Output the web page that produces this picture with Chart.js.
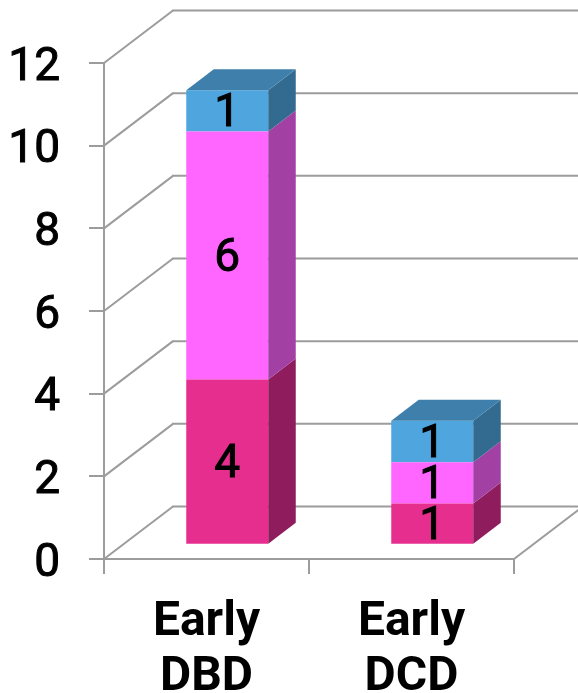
<!DOCTYPE html>
<html>
<head>
<meta charset="utf-8">
<title>Early DBD / DCD</title>
<script src="https://cdn.jsdelivr.net/npm/chart.js@4"></script>
<style>
  html, body { margin: 0; padding: 0; background: #fff; }
  canvas { display: block; }
</style>
</head>
<body>
<canvas id="grafik" width="578" height="693"></canvas>
<script>
var kategoriler = [["Early", "DBD"], ["Early", "DCD"]];
var altDegerler = [4, 1];
var ortaDegerler = [6, 1];
var ustDegerler = [1, 1];

var altRenkler = ["#E62E8F", "#8F1C5C"];
var ortaRenkler = ["#FF66FF", "#A340A3"];
var ustRenkler = ["#4FA6DE", "#336B90"];
var tepeRengi = "#3F7FAB";
var cizgiRengi = "#9C9C9C";

var yaziTipi = "Roboto";

/* duvar derinligi ve cubuklarin zemindeki kaymasi */
var duvarX = 69, duvarY = -52.5;
var kaymaX = 20.75, kaymaY = -14.2;
var cubukDerinX = 27.5, cubukDerinY = -21;

function cizgi(ctx, x1, y1, x2, y2) {
  ctx.beginPath();
  ctx.moveTo(x1, y1);
  ctx.lineTo(x2, y2);
  ctx.stroke();
}

function dortgen(ctx, noktalar, renk) {
  ctx.fillStyle = renk;
  ctx.beginPath();
  ctx.moveTo(noktalar[0], noktalar[1]);
  ctx.lineTo(noktalar[2], noktalar[3]);
  ctx.lineTo(noktalar[4], noktalar[5]);
  ctx.lineTo(noktalar[6], noktalar[7]);
  ctx.closePath();
  ctx.fill();
}

var ucBoyut = {
  id: "ucBoyut",
  beforeDatasetsDraw: function (chart) {
    var ctx = chart.ctx;
    var alan = chart.chartArea;
    var y = chart.scales.y;

    ctx.save();
    ctx.strokeStyle = cizgiRengi;
    ctx.lineWidth = 2;
    /* yan duvar ve arka duvar cizgileri */
    y.ticks.forEach(function (t) {
      var py = y.getPixelForValue(t.value);
      cizgi(ctx, alan.left, py, alan.left + duvarX, py + duvarY);
      cizgi(ctx, alan.left + duvarX - 1, py + duvarY, chart.width, py + duvarY);
    });
    /* zeminin sag kenari */
    cizgi(ctx, alan.right, alan.bottom, alan.right + duvarX, alan.bottom + duvarY);
    ctx.restore();

    ctx.save();
    ctx.translate(kaymaX, kaymaY);
  },
  afterDatasetsDraw: function (chart) {
    var ctx = chart.ctx;

    chart.data.datasets.forEach(function (ds, d) {
      chart.getDatasetMeta(d).data.forEach(function (bar) {
        var sag = bar.x + bar.width / 2;
        var sol = bar.x - bar.width / 2;
        dortgen(ctx, [sag, bar.y, sag + cubukDerinX, bar.y + cubukDerinY,
          sag + cubukDerinX, bar.base + cubukDerinY, sag, bar.base], ds.yanRenk);
        if (d === chart.data.datasets.length - 1) {
          dortgen(ctx, [sol, bar.y, sol + cubukDerinX, bar.y + cubukDerinY,
            sag + cubukDerinX, bar.y + cubukDerinY, sag, bar.y], tepeRengi);
        }
      });
    });

    /* degerler cubuklarin ortasina yazilir */
    ctx.fillStyle = "#000";
    ctx.strokeStyle = "#000";
    ctx.lineWidth = 1;
    ctx.font = "46px " + yaziTipi;
    ctx.textAlign = "center";
    ctx.textBaseline = "middle";
    chart.data.datasets.forEach(function (ds, d) {
      chart.getDatasetMeta(d).data.forEach(function (bar, i) {
        ctx.fillText(ds.data[i], bar.x, (bar.y + bar.base) / 2 + 4);
        ctx.strokeText(ds.data[i], bar.x, (bar.y + bar.base) / 2 + 4);
      });
    });

    ctx.restore();
  }
};

var ctx = document.getElementById("grafik");
var grafik = new Chart(ctx, {
  type: "bar",
  data: {
    labels: kategoriler,
    datasets: [
      { data: altDegerler, backgroundColor: altRenkler[0], yanRenk: altRenkler[1] },
      { data: ortaDegerler, backgroundColor: ortaRenkler[0], yanRenk: ortaRenkler[1] },
      { data: ustDegerler, backgroundColor: ustRenkler[0], yanRenk: ustRenkler[1] }
    ]
  },
  options: {
    responsive: false,
    animation: false,
    layout: { padding: { top: 63, right: 64, left: 0, bottom: 0 } },
    plugins: { legend: { display: false }, tooltip: { enabled: false } },
    datasets: { bar: { barPercentage: 0.4, categoryPercentage: 1, borderWidth: 0 } },
    scales: {
      x: {
        stacked: true,
        afterFit: function (s) { s.height = 134; },
        border: { color: cizgiRengi, width: 2 },
        grid: { offset: true, drawOnChartArea: false, color: cizgiRengi, lineWidth: 2, tickLength: 15 },
        ticks: { color: "#000", padding: 21, maxRotation: 0, autoSkip: false, font: { family: yaziTipi, size: 48, weight: "bold", lineHeight: 1.15 } }
      },
      y: {
        stacked: true,
        min: 0,
        max: 12,
        afterFit: function (s) { s.width = 104; },
        border: { color: cizgiRengi, width: 2 },
        grid: { drawOnChartArea: false, color: cizgiRengi, lineWidth: 2, tickLength: 15 },
        ticks: { stepSize: 2, color: "#000", padding: 29, labelOffset: 5, textStrokeColor: "#000", textStrokeWidth: 1, font: { family: yaziTipi, size: 46 } }
      }
    }
  },
  plugins: [ucBoyut]
});
</script>
</body>
</html>
